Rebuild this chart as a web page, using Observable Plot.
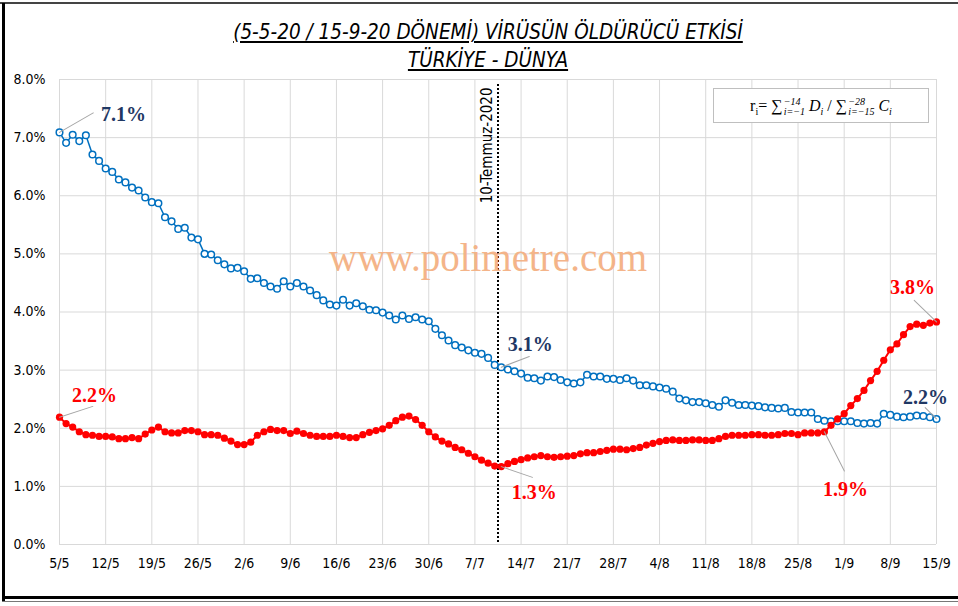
<!DOCTYPE html>
<html><head><meta charset="utf-8">
<script src="https://cdn.jsdelivr.net/npm/d3@7"></script>
<script src="https://cdn.jsdelivr.net/npm/@observablehq/plot@0.6"></script>
<style>
body{margin:0;background:#fff;}
#wrap{position:relative;width:958px;height:606px;overflow:hidden;background:#fff;}
#wrap svg{position:absolute;left:0;top:0;}
.title{position:absolute;left:9px;width:958px;text-align:center;font-family:"Liberation Sans Narrow","DejaVu Sans Condensed",sans-serif;font-style:italic;text-decoration:underline;font-size:20.5px;color:#000;line-height:24px;}
.wm{position:absolute;left:0;width:976px;text-align:center;top:235px;font-family:"Liberation Serif",serif;font-size:39px;color:#F4B183;opacity:0.95;}
#formula{position:absolute;left:713px;top:88px;width:214px;height:33px;border:1px solid #BFBFBF;background:#fff;font-family:"Liberation Serif",serif;font-size:16px;line-height:33px;text-align:center;white-space:nowrap;}
.ss{display:inline-flex;flex-direction:column;vertical-align:middle;font-size:10px;line-height:10px;text-align:left;font-style:italic;margin-left:1px;}
.line{position:absolute;background:#000;}
</style></head>
<body>
<div id="wrap">
  <div id="chart"></div>
  <div class="line" style="left:0;top:2px;width:958px;height:2px;background:#444"></div>
  <div class="line" style="left:2px;top:3px;width:3px;height:598px;"></div>
  <div class="line" style="left:2px;top:596px;width:956px;height:3px;"></div>
  <div class="line" style="left:2px;top:601px;width:956px;height:1px;background:#777"></div>
  <div class="title" id="t1" style="top:20px"></div>
  <div class="title" id="t2" style="top:48px"></div>
  <div class="wm" id="wm"></div>
  <div id="formula">r<sub style="font-size:10px">i</sub>= ∑<span class="ss"><span>−14</span><span>i=−1</span></span> <i>D<sub style="font-size:10px">i</sub></i> / ∑<span class="ss"><span>−28</span><span>i=−15</span></span> <i>C<sub style="font-size:10px">i</sub></i></div>
</div>
<script>
const titleLines = ["(5-5-20 / 15-9-20 DÖNEMİ) VİRÜSÜN ÖLDÜRÜCÜ ETKİSİ", "TÜRKİYE - DÜNYA"];
const watermark = "www.polimetre.com";
const startDate = "2020-05-05";
// Dünya (world) – open blue circles, % values, daily 5/5 .. 15/9
const dunya = [7.09,6.91,7.05,6.94,7.04,6.71,6.60,6.47,6.41,6.28,6.23,6.14,6.09,5.97,5.89,5.87,5.63,5.56,5.43,5.45,
5.28,5.25,5.00,4.99,4.89,4.82,4.75,4.76,4.70,4.57,4.58,4.50,4.44,4.40,4.53,4.44,4.50,4.44,4.37,4.29,
4.20,4.13,4.11,4.21,4.11,4.15,4.10,4.04,4.03,3.99,3.94,3.87,3.94,3.88,3.91,3.87,3.84,3.71,3.60,3.51,
3.43,3.39,3.34,3.30,3.28,3.21,3.09,3.05,3.01,2.98,2.94,2.87,2.86,2.82,2.89,2.88,2.83,2.79,2.77,2.79,
2.92,2.89,2.89,2.85,2.85,2.83,2.86,2.82,2.74,2.74,2.72,2.70,2.68,2.63,2.51,2.48,2.45,2.45,2.43,2.40,
2.37,2.48,2.44,2.40,2.40,2.39,2.38,2.36,2.35,2.34,2.35,2.28,2.27,2.27,2.27,2.16,2.13,2.12,2.12,2.12,
2.12,2.09,2.08,2.09,2.08,2.25,2.23,2.20,2.19,2.20,2.22,2.21,2.19,2.16];
// Türkiye – filled red circles
const turkiye = [2.19,2.08,2.02,1.94,1.89,1.88,1.86,1.86,1.85,1.82,1.82,1.84,1.82,1.90,1.97,2.02,1.94,1.92,1.92,1.96,
1.96,1.94,1.89,1.89,1.88,1.83,1.78,1.72,1.72,1.76,1.88,1.94,1.98,1.96,1.96,1.91,1.95,1.91,1.88,1.86,
1.86,1.86,1.88,1.86,1.84,1.84,1.89,1.93,1.96,1.99,2.05,2.13,2.19,2.21,2.15,2.05,1.94,1.85,1.78,1.73,
1.67,1.63,1.57,1.51,1.45,1.40,1.35,1.34,1.39,1.43,1.46,1.49,1.51,1.53,1.51,1.50,1.51,1.52,1.53,1.56,
1.58,1.58,1.60,1.62,1.64,1.64,1.63,1.65,1.67,1.71,1.74,1.77,1.79,1.80,1.79,1.79,1.80,1.80,1.79,1.79,
1.82,1.86,1.88,1.88,1.88,1.89,1.89,1.88,1.88,1.89,1.91,1.91,1.89,1.92,1.92,1.92,1.94,2.05,2.16,2.25,
2.39,2.51,2.65,2.82,2.98,3.17,3.35,3.45,3.61,3.75,3.79,3.77,3.81,3.83];
const xTickLabels = ["5/5","12/5","19/5","26/5","2/6","9/6","16/6","23/6","30/6","7/7","14/7","21/7","28/7","4/8","11/8","18/8","25/8","1/9","8/9","15/9"];
const yTicks = [0,1,2,3,4,5,6,7,8];
const markerLine = {date: "2020-07-10", label: "10-Temmuz-2020"};
// data labels: series, day index, text, label offset (px), leader length (px) and angle (deg)
const annotations = [
  {s:"d", i:0,   text:"7.1%", dx:64,  dy:-18, len:39, rot:60},
  {s:"t", i:0,   text:"2.2%", dx:35,  dy:-22, len:35, rot:72},
  {s:"d", i:67,  text:"3.1%", dx:29,  dy:-23, len:30, rot:69},
  {s:"t", i:67,  text:"1.3%", dx:33,  dy:26,  len:33, rot:109},
  {s:"t", i:116, text:"1.9%", dx:21,  dy:58,  len:44, rot:153},
  {s:"t", i:133, text:"3.8%", dx:-24, dy:-34, len:31, rot:-46},
  {s:"d", i:133, text:"2.2%", dx:-11, dy:-21, len:16, rot:-45}
];

document.getElementById("t1").textContent = titleLines[0];
document.getElementById("t2").textContent = titleLines[1];
document.getElementById("wm").textContent = watermark;

const t0 = new Date(startDate + "T00:00:00Z");
const dayMs = 864e5;
const dates = dunya.map((_, i) => new Date(t0.getTime() + i * dayMs));
const dData = dunya.map((v, i) => ({date: dates[i], v}));
const tData = turkiye.map((v, i) => ({date: dates[i], v}));
const xTicks = xTickLabels.map((_, k) => dates[k * 7]);
const labelOf = new Map(xTicks.map((d, k) => [+d, xTickLabels[k]]));
const ann = annotations.map(a => ({...a, date: dates[a.i], v: (a.s === "d" ? dunya : turkiye)[a.i]}));
const mDate = new Date(markerLine.date + "T12:00:00Z");
const leader = {draw(ctx, l) { ctx.moveTo(0, 0); ctx.lineTo(0, -l); }};
const BLUE = "#0070C0", RED = "#FF0000", NAVY = "#1F3864";
const tickFont = '"Liberation Sans Narrow","DejaVu Sans Condensed",sans-serif';

const labelMarks = ann.map(a => Plot.text([a], {x: "date", y: "v", text: "text", dx: a.dx, dy: a.dy,
  fill: a.s === "d" ? NAVY : RED, fontFamily: '"Liberation Serif",serif', fontWeight: "bold", fontSize: 20}));

const chart = Plot.plot({
  width: 958, height: 606,
  marginTop: 79, marginBottom: 62, marginLeft: 59, marginRight: 22,
  style: {fontFamily: tickFont, fontSize: "14px", color: "#000", background: "transparent", overflow: "visible"},
  x: {type: "utc", domain: [dates[0], dates[dates.length - 1]], ticks: xTicks, tickFormat: d => labelOf.get(+d), tickSize: 0, tickPadding: 14, label: null},
  y: {domain: [0, 8], ticks: yTicks, tickFormat: d => d.toFixed(1) + "%", tickSize: 0, tickPadding: 14, label: null},
  length: {type: "identity"},
  marks: [
    Plot.ruleX(xTicks, {stroke: "#D9D9D9", strokeWidth: 1}),
    Plot.ruleY(yTicks, {stroke: "#D9D9D9", strokeWidth: 1}),
    Plot.ruleX([mDate], {stroke: "#000", strokeWidth: 2, strokeDasharray: "2,2", insetTop: 5}),
    Plot.text([markerLine], {x: () => mDate, frameAnchor: "top", text: "label", rotate: -90, textAnchor: "end", dx: -17, dy: 8, fontSize: 15, fill: "#000"}),
    Plot.line(dData, {x: "date", y: "v", stroke: BLUE, strokeWidth: 1.5}),
    Plot.dot(dData, {x: "date", y: "v", r: 3.3, stroke: BLUE, strokeWidth: 1.5, fill: "white"}),
    Plot.line(tData, {x: "date", y: "v", stroke: RED, strokeWidth: 2}),
    Plot.dot(tData, {x: "date", y: "v", r: 3.6, fill: RED, stroke: "none"}),
    Plot.vector(ann, {x: "date", y: "v", length: "len", rotate: "rot", anchor: "start", shape: leader, stroke: "#A6A6A6", strokeWidth: 1}),
    ...labelMarks
  ]
});
document.getElementById("chart").appendChild(chart);
</script>
</body></html>
